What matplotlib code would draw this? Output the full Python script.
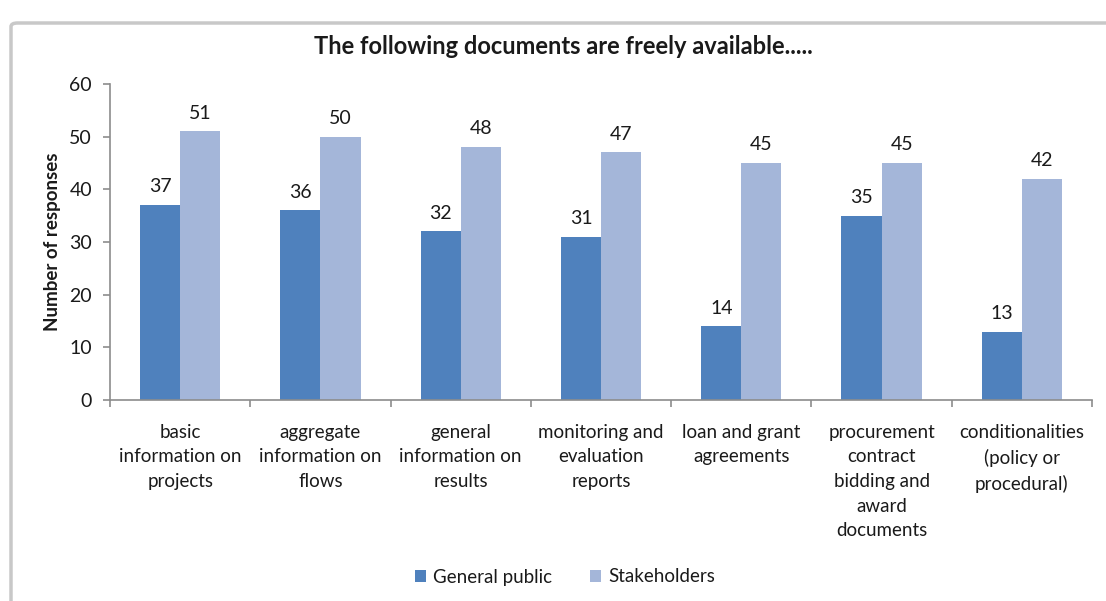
import matplotlib.pyplot as plt
import numpy as np
from matplotlib.patches import FancyBboxPatch

# data
categories = [
    "basic\ninformation on\nprojects",
    "aggregate\ninformation on\nflows",
    "general\ninformation on\nresults",
    "monitoring and\nevaluation\nreports",
    "loan and grant\nagreements",
    "procurement\ncontract\nbidding and\naward\ndocuments",
    "conditionalities\n(policy or\nprocedural)",
]
general_public = [37, 36, 32, 31, 14, 35, 13]
stakeholders = [51, 50, 48, 47, 45, 45, 42]
series_names = ["General public", "Stakeholders"]

plt.rcParams['font.family'] = ['Lato', 'DejaVu Sans']

dark = '#4F81BD'
light = '#A4B6D9'
axis_col = '#8C8C8C'
text_col = '#1A1A1A'

fig = plt.figure(figsize=(11.06, 6.01), dpi=100)

# grey chart frame (cropped at right and bottom like the reference)
frame = FancyBboxPatch((11 / 1106, -20 / 601), 1120 / 1106, 598 / 601,
                       boxstyle="round,pad=0,rounding_size=0.006",
                       transform=fig.transFigure, fill=False,
                       edgecolor='#C8C8C8', linewidth=2.5, clip_on=False)
fig.patches.append(frame)

ax = fig.add_axes([110 / 1106, 1 - 400 / 601, 982 / 1106, 316 / 601])

x = np.arange(len(categories))
w = 0.286
b1 = ax.bar(x - w / 2, general_public, w, color=dark, label=series_names[0])
b2 = ax.bar(x + w / 2, stakeholders, w, color=light, label=series_names[1])

for bars in (b1, b2):
    for rect in bars:
        ax.annotate(f"{int(rect.get_height())}",
                    (rect.get_x() + rect.get_width() / 2, rect.get_height()),
                    xytext=(0, 7), textcoords='offset points',
                    ha='center', va='bottom', fontsize=14, color=text_col)

ax.set_xlim(-0.5, len(categories) - 0.5)
ax.set_ylim(0, 60)
ax.set_yticks(range(0, 61, 10))

ax.set_xticks(x)
ax.set_xticklabels(categories, fontsize=13.5, color=text_col, linespacing=1.55)
ax.set_xticks(np.arange(-0.5, len(categories), 1), minor=True)
ax.tick_params(axis='x', which='major', length=0, pad=17)
ax.tick_params(axis='x', which='minor', length=5, color=axis_col, width=1.2)
ax.tick_params(axis='y', length=5, color=axis_col, width=1.2,
               labelsize=14, labelcolor=text_col, pad=8)

for side in ('top', 'right'):
    ax.spines[side].set_visible(False)
for side in ('left', 'bottom'):
    ax.spines[side].set_color(axis_col)
    ax.spines[side].set_linewidth(1.2)

ax.set_ylabel("Number of responses", fontsize=13.5, fontweight='bold',
              color=text_col, labelpad=6)

fig.text(0.509, 1 - 47 / 601, "The following documents are freely available.....",
         ha='center', va='center', fontsize=17, fontweight='bold', color=text_col)

fig.legend(handles=[b1, b2], labels=series_names, loc='center',
           bbox_to_anchor=(0.511, 1 - 577 / 601), ncol=2, frameon=False,
           fontsize=13.5, handlelength=0.6, handleheight=0.6,
           handletextpad=0.4, columnspacing=2.0, labelcolor=text_col)

fig.savefig("out.png", dpi=100)
